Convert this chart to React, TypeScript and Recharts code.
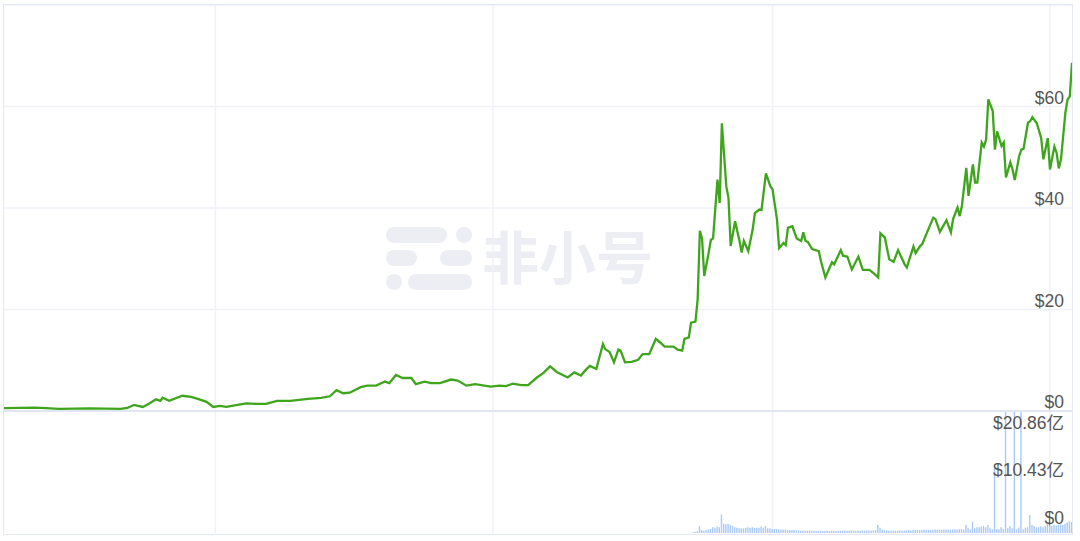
import React from 'react';
import { LineChart, Line, BarChart, Bar, XAxis, YAxis, CartesianGrid } from 'recharts';

// day index (daily data) and close price in USD
const days = [
  0, 7, 14, 19, 25, 32, 39, 46, 53, 56, 59, 63, 66, 69, 71, 72, 75, 81, 85, 88,
  92, 95, 98, 101, 106, 110, 115, 119, 124, 130, 138, 144, 148, 151, 154, 157, 162, 165, 169, 173,
  175, 178, 181, 185, 187, 191, 194, 198, 203, 206, 210, 214, 221, 225, 228, 231, 235, 238, 242, 245,
  248, 251, 256, 259, 262, 264, 266, 269, 272, 273, 275, 277, 279, 280, 282, 285, 288, 290, 293, 296,
  298, 300, 304, 306, 308, 309, 311, 312, 314, 315, 316, 317, 318, 320, 321, 322, 324, 325, 326, 328,
  329, 330, 332, 334, 335, 336, 338, 340, 341, 343, 344, 346, 348, 349, 351, 352, 354, 355, 356, 358,
  360, 362, 363, 364, 365, 367, 370, 371, 373, 376, 377, 380, 381, 383, 385, 388, 390, 393, 395, 397,
  398, 400, 402, 404, 406, 409, 410, 413, 414, 416, 417, 419, 422, 423, 425, 428, 430, 431, 433, 434,
  435, 437, 438, 440, 441, 442, 444, 445, 446, 447, 449, 450, 451, 453, 454, 455, 457, 458, 459, 461,
  462, 463, 465, 466, 467, 469, 471, 472, 474, 475, 477, 478, 479, 480, 482, 483, 484, 485,
];

const prices = [
  0.55, 0.6, 0.65, 0.55, 0.4, 0.45, 0.5, 0.45, 0.4, 0.6, 1.2, 0.8, 1.5, 2.3, 2.0, 2.6, 2.0, 3.0, 2.8, 2.4,
  1.8, 0.8, 1.0, 0.8, 1.2, 1.5, 1.4, 1.4, 2.0, 2.0, 2.4, 2.6, 2.9, 4.1, 3.5, 3.6, 4.7, 5.0, 5.0, 5.8,
  5.5, 7.1, 6.5, 6.5, 5.3, 5.8, 5.5, 5.5, 6.2, 6.0, 5.0, 5.3, 4.8, 5.0, 4.9, 5.4, 5.1, 5.1, 6.6, 7.5,
  8.8, 7.7, 6.6, 7.6, 7.0, 8.0, 8.9, 8.3, 13.2, 12.2, 11.6, 9.6, 12.1, 11.9, 9.6, 9.7, 10.1, 11.2, 11.2, 14.2,
  13.5, 12.7, 12.7, 12.1, 11.9, 14.2, 14.5, 17.4, 17.6, 22.0, 35.5, 34.0, 26.6, 31.2, 33.7, 34.0, 45.6, 41.0, 56.7, 44.3,
  42.0, 32.5, 37.4, 33.5, 31.2, 33.5, 31.5, 35.8, 39.0, 39.7, 39.6, 46.8, 44.3, 43.7, 37.8, 32.1, 33.1, 32.7, 36.1, 36.4,
  34.0, 33.5, 35.2, 33.5, 33.3, 31.9, 31.5, 29.5, 26.3, 29.3, 28.9, 31.7, 30.6, 30.4, 27.9, 30.4, 27.8, 27.8, 27.1, 26.3,
  35.0, 34.2, 29.9, 29.4, 31.7, 28.9, 28.3, 32.4, 31.1, 32.5, 32.9, 35.0, 38.1, 37.8, 35.3, 37.6, 35.2, 37.8, 40.1, 38.4,
  40.4, 47.9, 42.4, 48.6, 45.0, 45.0, 52.9, 52.1, 53.5, 61.4, 59.1, 51.5, 55.1, 52.2, 52.9, 46.0, 49.0, 47.6, 45.5, 50.2,
  51.5, 51.7, 56.8, 57.1, 57.9, 56.7, 53.8, 49.6, 53.8, 47.6, 52.1, 50.9, 47.8, 49.6, 58.8, 61.4, 62.0, 68.6,
];

// daily volume in 亿 USD, from day 313 to day 485
const volumeStartDay = 313;
const volumes = [
  0.15, 0.2, 0.3, 1.2, 0.5, 0.4, 0.5, 0.6,
  0.7, 1.0, 0.9, 1.1, 1.0, 3.2, 1.6, 1.5, 1.6, 1.4,
  1.2, 1.0, 0.9, 0.8, 0.8, 0.8, 0.9, 1.0, 0.9, 1.0,
  0.9, 0.9, 0.9, 1.1, 0.9, 1.2, 0.8, 0.8, 0.7, 0.7,
  0.7, 0.6, 0.6, 0.6, 0.6, 0.5, 0.5, 0.5, 0.5, 0.45,
  0.45, 0.4, 0.45, 0.4, 0.4, 0.45, 0.4, 0.4, 0.35, 0.4,
  0.4, 0.35, 0.4, 0.4, 0.35, 0.4, 0.4, 0.35, 0.4, 0.4,
  0.4, 0.45, 0.4, 0.4, 0.45, 0.4, 0.4, 0.45, 0.4, 0.45,
  0.4, 0.45, 0.45, 0.4, 0.45, 0.5, 1.4, 0.9, 0.6, 0.5,
  0.45, 0.4, 0.4, 0.45, 0.4, 0.4, 0.45, 0.4, 0.45, 0.45,
  0.5, 0.45, 0.5, 0.5, 0.55, 0.5, 0.5, 0.55, 0.5, 0.55,
  0.5, 0.55, 0.6, 0.55, 0.6, 0.55, 0.6, 0.6, 0.55, 0.6,
  0.6, 0.65, 0.6, 0.65, 0.7, 0.6, 1.4, 0.9, 0.6, 1.9,
  0.8, 1.0, 1.0, 1.1, 1.2, 1.0, 1.4, 0.8, 0.6, 11.2,
  0.7, 0.6, 1.0, 0.7, 20.86, 0.8, 1.2, 0.8, 20.86, 0.6,
  0.9, 20.86, 0.6, 0.9, 1.0, 3.1, 1.4, 1.2, 1.0, 1.0,
  1.1, 1.0, 1.2, 1.6, 1.3, 1.2, 1.4, 1.3, 1.4, 1.5,
  1.4, 1.6, 1.8, 2.0, 1.9,
];

const lastDay = 485;
const gridDays = [96, 222, 349, 475];
const priceTicks = [0, 20, 40, 60];
const volumeTicks = [0, 10.43, 20.86];

const priceData = days.map((d, i) => ({ day: d, price: prices[i] }));
const volumeData = volumes.map((v, i) => ({ day: volumeStartDay + i, vol: v }));

const FONT = '"Liberation Sans", Arial, "Noto Sans CJK SC", sans-serif';
const LABEL = '#555';

const renderPriceTick = (props: any) => {
  const { x, y, payload } = props;
  return (
    <text key={`p-${payload.value}`} x={x} y={y - 9} dy="0.35em" textAnchor="end" fill={LABEL} fontSize={17.5} fontFamily={FONT}>
      {'$' + payload.value}
    </text>
  );
};

const renderVolTick = (props: any) => {
  const { x, y, payload } = props;
  const v = payload.value;
  const shift = v === volumeTicks[2] ? 11 : v === volumeTicks[1] ? -3 : -15;
  return (
    <text key={`v-${v}`} x={x} y={y + shift} dy="0.35em" textAnchor="end" fill={LABEL} fontSize={17.5} fontFamily={FONT}>
      {v === 0 ? '$0' : `$${v}亿`}
    </text>
  );
};

// vertical grid at the date ticks, placed on the chart's x range
const gridX = ({ xAxis, offset }: any) =>
  gridDays.map((d) => {
    const s = xAxis && xAxis.scale;
    if (typeof s === 'function') return s(d);
    if (s && typeof s.map === 'function') return s.map(d);
    return offset.left + (d / lastDay) * offset.width;
  });

const pill = (left: number, top: number, w: number) => (
  <div
    style={{
      position: 'absolute',
      left,
      top,
      width: w,
      height: 16,
      borderRadius: 8,
      background: '#eceef3',
    }}
  />
);

function Watermark() {
  return (
    <div style={{ position: 'absolute', left: 0, top: 0, width: 1080, height: 541, pointerEvents: 'none' }}>
      {pill(386, 227, 61)}
      {pill(456, 227, 16)}
      {pill(386, 250, 31)}
      {pill(440, 250, 32)}
      {pill(386, 274, 16)}
      {pill(408, 274, 64)}
      <div
        style={{
          position: 'absolute',
          left: 482,
          top: 226,
          fontSize: 57,
          lineHeight: 1,
          fontWeight: 700,
          color: '#eceef3',
          fontFamily: '"Noto Sans CJK SC", sans-serif',
        }}
      >
        非小号
      </div>
    </div>
  );
}

export default function App() {
  return (
    <div
      style={{
        position: 'absolute',
        left: 0,
        top: 0,
        width: 1080,
        height: 541,
        background: '#fff',
        overflow: 'hidden',
      }}
    >
      <Watermark />
      <div style={{ position: 'absolute', left: 0, top: 0 }}>
        <LineChart width={1080} height={412} data={priceData} margin={{ top: 5, right: 8, bottom: 0, left: 4 }}>
          <CartesianGrid stroke="#f1f2f8" strokeWidth={1.5} verticalCoordinatesGenerator={gridX} />
          <XAxis
            dataKey="day"
            type="number"
            domain={[0, lastDay]}
            ticks={gridDays}
            tickLine={false}
            tick={false}
            height={1}
            axisLine={{ stroke: '#dde1f1', strokeWidth: 1.5 }}
          />
          <YAxis
            orientation="right"
            mirror
            width={1}
            domain={[0, 80]}
            ticks={priceTicks}
            interval={0}
            axisLine={false}
            tickLine={false}
            tick={renderPriceTick}
          />
          <Line
            type="linear"
            dataKey="price"
            stroke="#3ea51c"
            strokeWidth={2.3}
            dot={false}
            isAnimationActive={false}
          />
        </LineChart>
      </div>
      <div style={{ position: 'absolute', left: 0, top: 412 }}>
        <BarChart width={1080} height={129} data={volumeData} margin={{ top: 0, right: 8, bottom: 7, left: 4 }}>
          <CartesianGrid stroke="#f1f2f8" strokeWidth={1.5} horizontal={false} verticalCoordinatesGenerator={gridX} />
          <XAxis
            dataKey="day"
            type="number"
            domain={[0, lastDay]}
            ticks={gridDays}
            tickLine={false}
            tick={false}
            height={1}
            axisLine={false}
          />
          <YAxis
            orientation="right"
            mirror
            width={1}
            domain={[0, volumeTicks[2]]}
            ticks={volumeTicks}
            interval={0}
            axisLine={false}
            tickLine={false}
            tick={renderVolTick}
          />
          <Bar dataKey="vol" fill="#a9c9f6" barSize={1.4} isAnimationActive={false} />
        </BarChart>
      </div>
      <div
        style={{
          position: 'absolute',
          left: 3,
          top: 4,
          width: 1068,
          height: 529,
          border: '1.5px solid #e4e7f4',
          pointerEvents: 'none',
        }}
      />
    </div>
  );
}
